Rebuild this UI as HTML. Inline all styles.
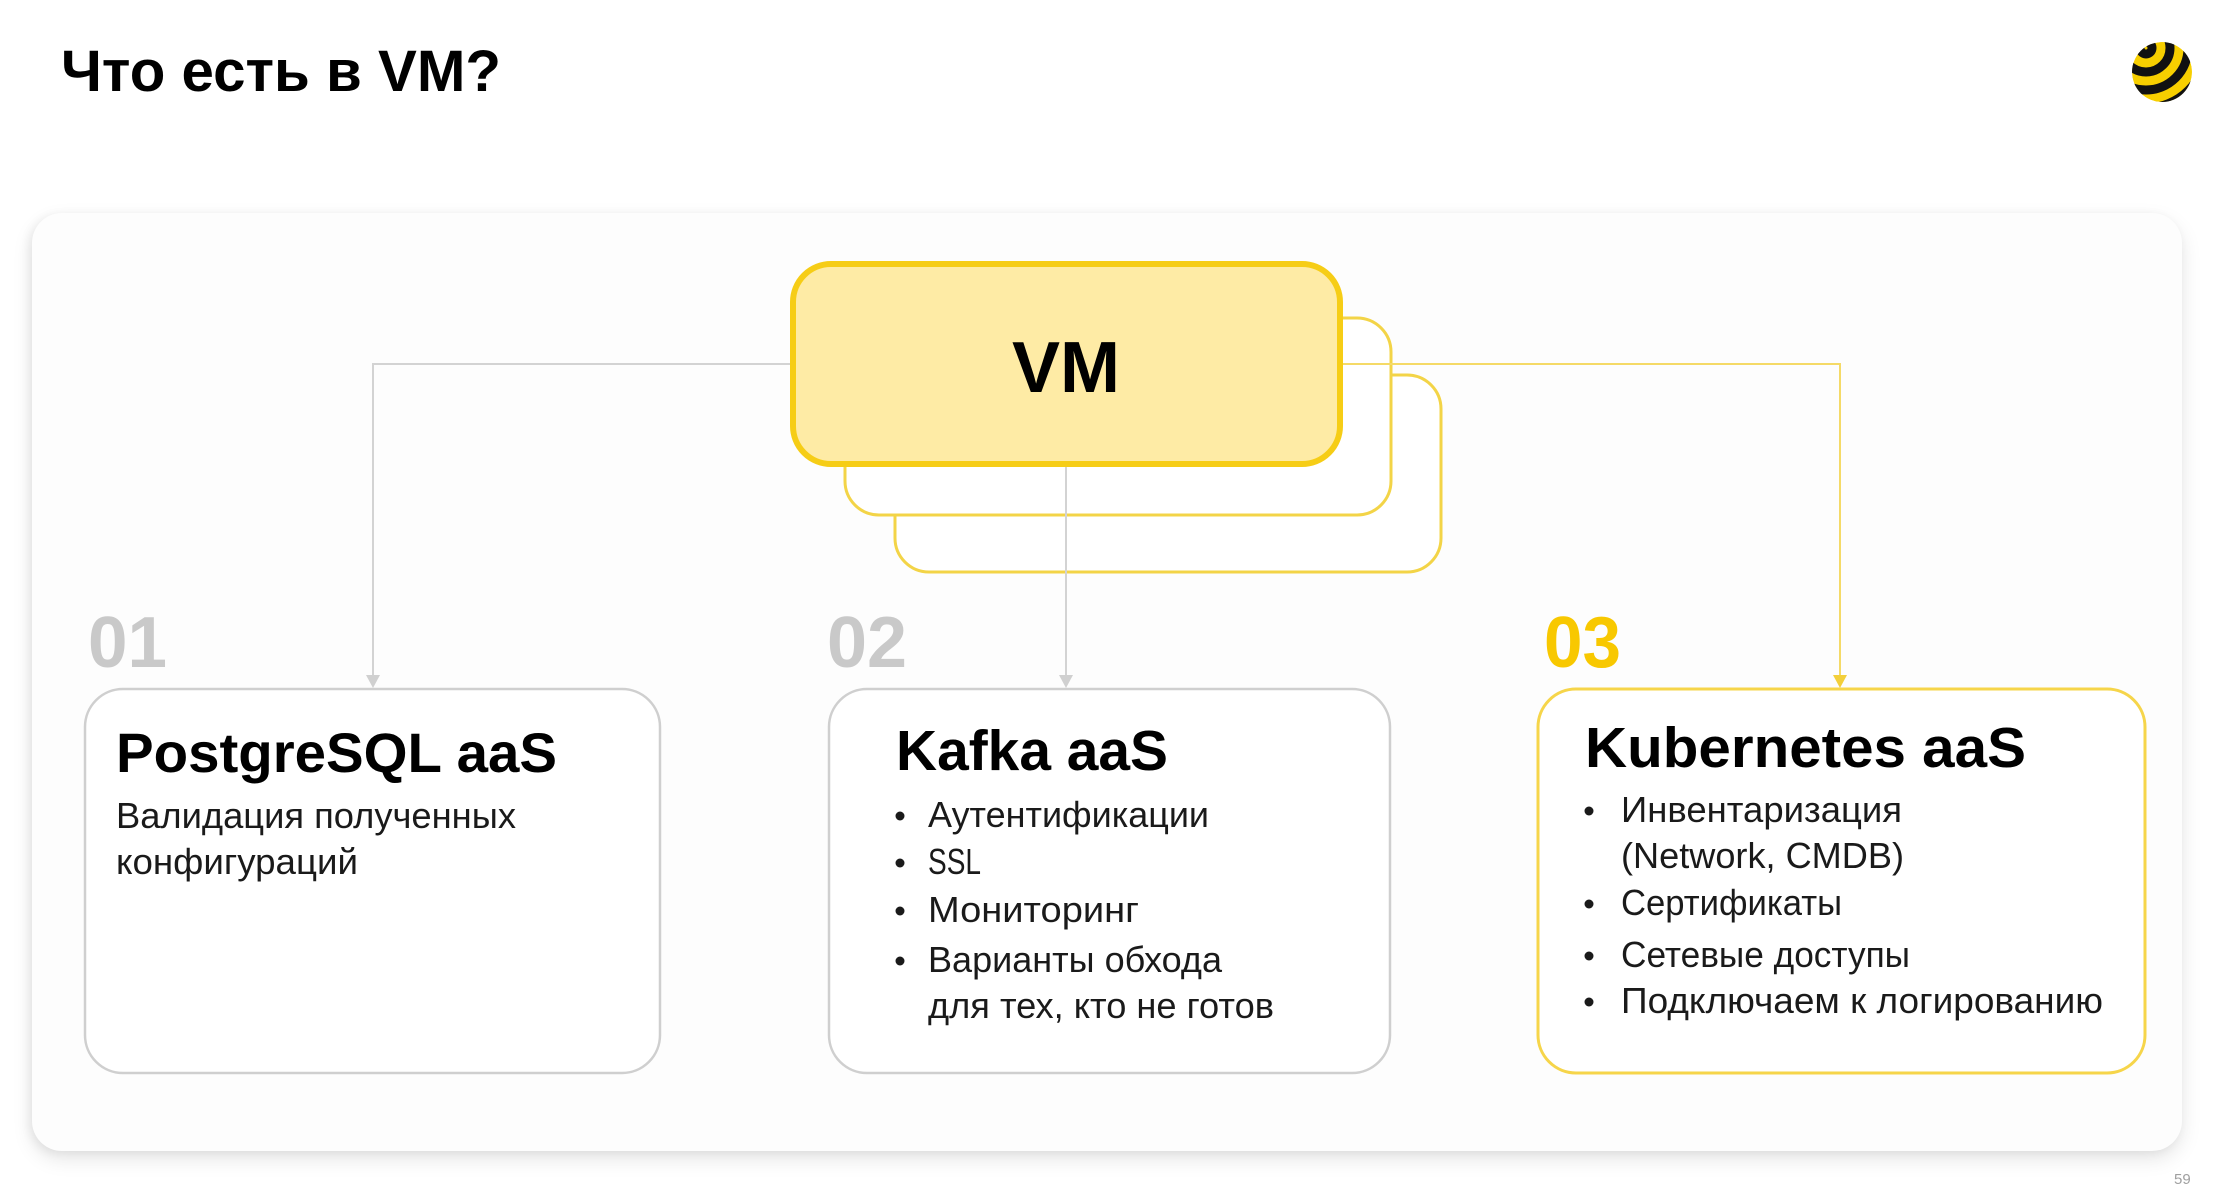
<!DOCTYPE html>
<html>
<head>
<meta charset="utf-8">
<style>
  html, body { margin:0; padding:0; }
  body { width:2226px; height:1186px; background:#ffffff; position:relative; overflow:hidden; }
  .card { position:absolute; left:32px; top:213px; width:2150px; height:938px; border-radius:30px;
          background:#fdfdfd; box-shadow: 0 8px 20px rgba(0,0,0,0.10), -3px 2px 10px rgba(0,0,0,0.06); }
  svg { position:absolute; left:0; top:0; }
  text { font-family: "Liberation Sans", "Noto Sans CJK SC", sans-serif; }
</style>
</head>
<body>
<div class="card"></div>
<svg width="2226" height="1186" viewBox="0 0 2226 1186" xmlns="http://www.w3.org/2000/svg">
  <defs>
    <clipPath id="ball"><circle cx="2162" cy="72" r="30"/></clipPath>
  </defs>

  <!-- Title -->
  <text x="61" y="91" font-size="58" font-weight="bold" fill="#000" textLength="440" lengthAdjust="spacingAndGlyphs">Что есть в VM?</text>

  <!-- Logo -->
  <g clip-path="url(#ball)">
    <circle cx="2162" cy="72" r="30" fill="#f7cf00"/>
    <g fill="none" stroke="#111" stroke-width="9">
      <circle cx="2146" cy="48" r="6"/>
      <circle cx="2146" cy="48" r="24"/>
      <circle cx="2146" cy="48" r="42"/>
      <circle cx="2146" cy="48" r="60"/>
    </g>
  </g>

  <!-- Back stacked boxes -->
  <rect x="895" y="375" width="546" height="197" rx="34" fill="#ffffff" stroke="#f3d447" stroke-width="3"/>
  <rect x="845" y="318" width="546" height="197" rx="34" fill="#ffffff" stroke="#f3d447" stroke-width="3"/>

  <!-- Connectors -->
  <polyline points="795,364 373,364 373,678" fill="none" stroke="#d3d3d3" stroke-width="2"/>
  <polygon points="366,675 380,675 373,688" fill="#d0d0d0"/>
  <line x1="1066" y1="462" x2="1066" y2="678" stroke="#d3d3d3" stroke-width="2"/>
  <polygon points="1059,675 1073,675 1066,688" fill="#d0d0d0"/>
  <polyline points="1338,364 1840,364 1840,678" fill="none" stroke="#f5da67" stroke-width="2"/>
  <polygon points="1833,675 1847,675 1840,688" fill="#f3cf3a"/>

  <!-- VM box -->
  <rect x="793" y="264" width="547" height="200" rx="38" fill="#feeba5" stroke="#f6cd16" stroke-width="6"/>
  <text x="1066" y="392" font-size="72" font-weight="bold" fill="#000" text-anchor="middle">VM</text>

  <!-- Numbers -->
  <text x="88" y="667" font-size="72" font-weight="bold" fill="#c9c9c9" textLength="79" lengthAdjust="spacingAndGlyphs">01</text>
  <text x="827" y="667" font-size="72" font-weight="bold" fill="#c9c9c9" textLength="80" lengthAdjust="spacingAndGlyphs">02</text>
  <text x="1544" y="667" font-size="72" font-weight="bold" fill="#f8c800" textLength="77" lengthAdjust="spacingAndGlyphs">03</text>

  <!-- Box 1 -->
  <rect x="85" y="689" width="575" height="384" rx="38" fill="#ffffff" stroke="#cfcfcf" stroke-width="2.5"/>
  <text x="116" y="772" font-size="56" font-weight="bold" fill="#000" textLength="441" lengthAdjust="spacingAndGlyphs">PostgreSQL aaS</text>
  <text x="116" y="828" font-size="36" fill="#1a1a1a" textLength="400" lengthAdjust="spacingAndGlyphs">Валидация полученных</text>
  <text x="116" y="874" font-size="36" fill="#1a1a1a" textLength="242" lengthAdjust="spacingAndGlyphs">конфигураций</text>

  <!-- Box 2 -->
  <rect x="829" y="689" width="561" height="384" rx="38" fill="#ffffff" stroke="#cfcfcf" stroke-width="2.5"/>
  <text x="896" y="770" font-size="57" font-weight="bold" fill="#000" textLength="272" lengthAdjust="spacingAndGlyphs">Kafka aaS</text>
  <g fill="#1a1a1a">
    <circle cx="900" cy="816" r="4.5"/>
    <circle cx="900" cy="863" r="4.5"/>
    <circle cx="900" cy="911" r="4.5"/>
    <circle cx="900" cy="961" r="4.5"/>
  </g>
  <text x="928" y="827" font-size="36" fill="#1a1a1a" textLength="281" lengthAdjust="spacingAndGlyphs">Аутентификации</text>
  <text x="928" y="874" font-size="36" fill="#1a1a1a" textLength="53" lengthAdjust="spacingAndGlyphs">SSL</text>
  <text x="928" y="922" font-size="36" fill="#1a1a1a" textLength="211" lengthAdjust="spacingAndGlyphs">Мониторинг</text>
  <text x="928" y="972" font-size="36" fill="#1a1a1a" textLength="294" lengthAdjust="spacingAndGlyphs">Варианты обхода</text>
  <text x="928" y="1018" font-size="36" fill="#1a1a1a" textLength="346" lengthAdjust="spacingAndGlyphs">для тех, кто не готов</text>

  <!-- Box 3 -->
  <rect x="1538" y="689" width="607" height="384" rx="38" fill="#ffffff" stroke="#f6d54a" stroke-width="3"/>
  <text x="1585" y="767" font-size="57" font-weight="bold" fill="#000" textLength="441" lengthAdjust="spacingAndGlyphs">Kubernetes aaS</text>
  <g fill="#1a1a1a">
    <circle cx="1589" cy="811" r="4.5"/>
    <circle cx="1589" cy="904" r="4.5"/>
    <circle cx="1589" cy="956" r="4.5"/>
    <circle cx="1589" cy="1002" r="4.5"/>
  </g>
  <text x="1621" y="822" font-size="36" fill="#1a1a1a" textLength="281" lengthAdjust="spacingAndGlyphs">Инвентаризация</text>
  <text x="1621" y="868" font-size="36" fill="#1a1a1a" textLength="283" lengthAdjust="spacingAndGlyphs">(Network, CMDB)</text>
  <text x="1621" y="915" font-size="36" fill="#1a1a1a" textLength="221" lengthAdjust="spacingAndGlyphs">Сертификаты</text>
  <text x="1621" y="967" font-size="36" fill="#1a1a1a" textLength="289" lengthAdjust="spacingAndGlyphs">Сетевые доступы</text>
  <text x="1621" y="1013" font-size="36" fill="#1a1a1a" textLength="482" lengthAdjust="spacingAndGlyphs">Подключаем к логированию</text>

  <!-- Page number -->
  <text x="2174" y="1184" font-size="15" fill="#a0a0a0">59</text>
</svg>
</body>
</html>
